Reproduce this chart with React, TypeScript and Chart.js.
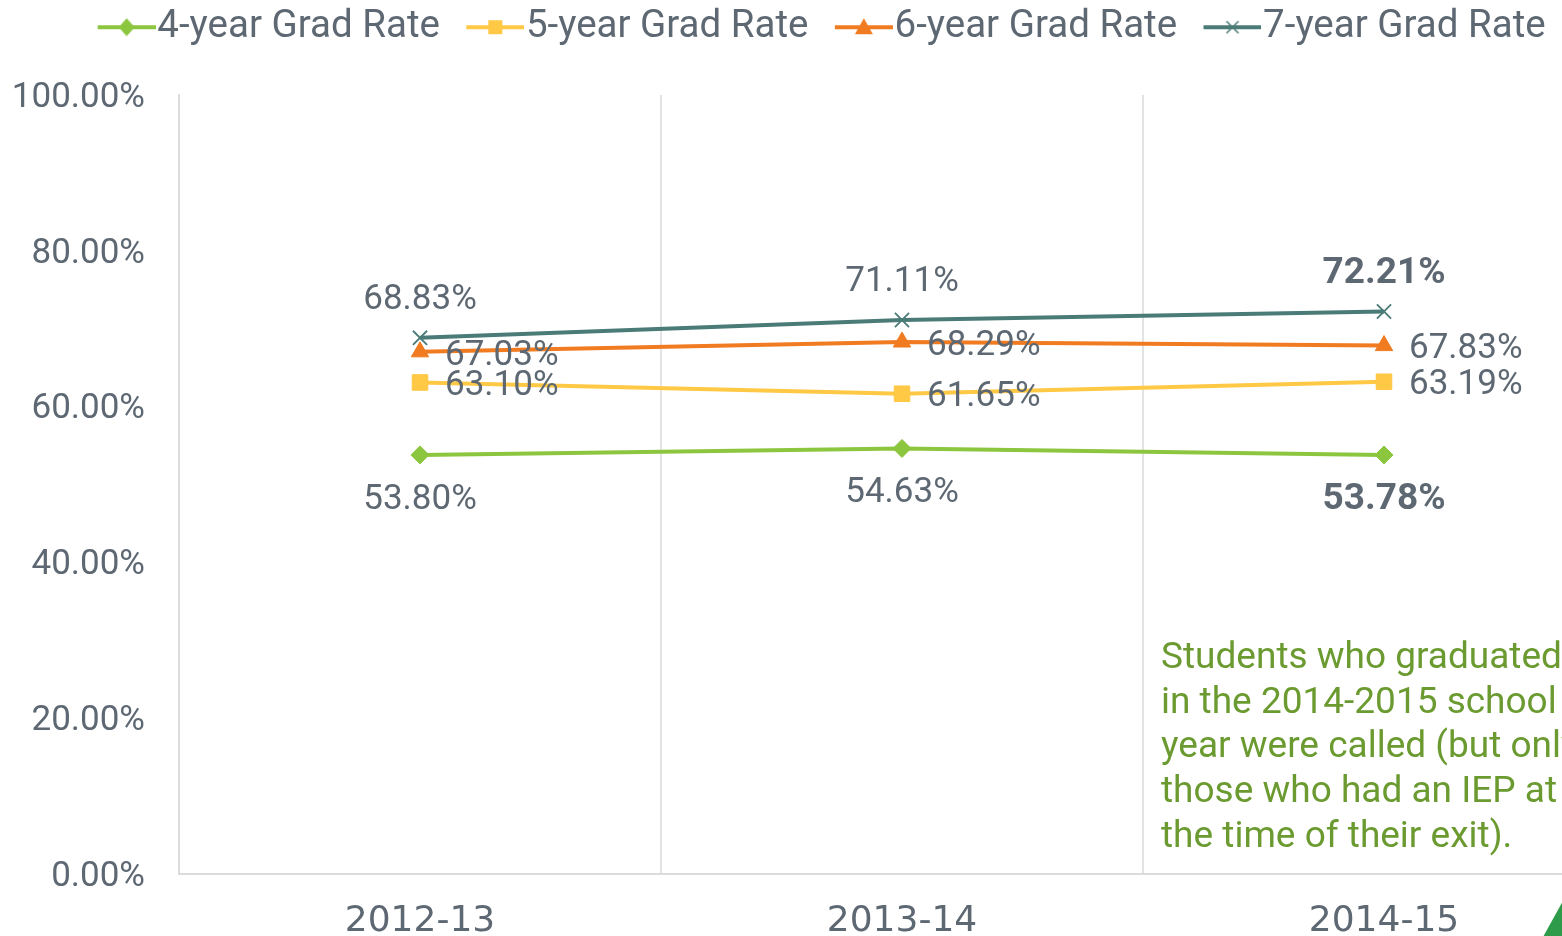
import React, { useEffect, useRef } from "react";
import { Chart, registerables } from "chart.js";

Chart.register(...registerables);

const categories = ["2012-13", "2013-14", "2014-15"];
const seriesNames = ["4-year Grad Rate", "5-year Grad Rate", "6-year Grad Rate", "7-year Grad Rate"];
const rate4 = [53.8, 54.63, 53.78];
const rate5 = [63.1, 61.65, 63.19];
const rate6 = [67.03, 68.29, 67.83];
const rate7 = [68.83, 71.11, 72.21];
const yTicks = [0, 20, 40, 60, 80, 100];
const noteLines = [
  "Students who graduated",
  "in the 2014-2015 school",
  "year were called (but only",
  "those who had an IEP at",
  "the time of their exit).",
];

const colors = ["#8cc63f", "#ffc845", "#f07b21", "#4a7b77"];
const pointStyles = ["rectRot", "rect", "triangle", "crossRot"];
const pointRadii = [9, 11, 10, 10];
const labelPos = ["below", "right", "right", "above"];
const boldLabels = [
  [false, false, true],
  [false, false, false],
  [false, false, false],
  [false, false, true],
];
const TEXT = "#5d6873";
const LEGEND_FS = 38.5;
const LEGEND_PAD = 8;
const LEGEND_BOX = 86 - LEGEND_FS / 2 - LEGEND_PAD;

function legendIcon(color: string, style: string): HTMLCanvasElement {
  const lineEnd = LEGEND_BOX + LEGEND_FS / 2 - 2;
  const center = LEGEND_BOX / 2;
  const half = lineEnd - center;
  const w = Math.ceil(half * 2);
  const c = document.createElement("canvas");
  c.width = w;
  c.height = 24;
  const g = c.getContext("2d")!;
  const x1 = w - 58;
  const x2 = w;
  g.strokeStyle = color;
  g.fillStyle = color;
  g.lineWidth = 4;
  g.beginPath();
  g.moveTo(x1, 12);
  g.lineTo(x2, 12);
  g.stroke();
  const cx = (x1 + x2) / 2, cy = 12;
  g.beginPath();
  if (style === "rectRot") {
    g.moveTo(cx, cy - 9); g.lineTo(cx + 8, cy); g.lineTo(cx, cy + 9); g.lineTo(cx - 8, cy); g.closePath(); g.fill();
  } else if (style === "rect") {
    g.fillRect(cx - 7, cy - 7, 14, 14);
  } else if (style === "triangle") {
    g.moveTo(cx, cy - 9); g.lineTo(cx + 9, cy + 7); g.lineTo(cx - 9, cy + 7); g.closePath(); g.fill();
  } else {
    g.lineWidth = 1.5;
    g.moveTo(cx - 6, cy - 6); g.lineTo(cx + 6, cy + 6);
    g.moveTo(cx + 6, cy - 6); g.lineTo(cx - 6, cy + 6); g.stroke();
  }
  return c;
}

const legendHeightPlugin = {
  id: "legendHeight",
  beforeLayout(chart: any) {
    const lg = chart.legend;
    if (lg && !lg.__patched) {
      const orig = lg.fit;
      lg.fit = function () {
        orig.call(this);
        this.height = 95;
      };
      lg.__patched = true;
    }
  },
};

const valueLabels = {
  id: "valueLabels",
  afterDatasetsDraw(chart: any) {
    const ctx = chart.ctx;
    ctx.save();
    chart.data.datasets.forEach((ds: any, di: number) => {
      const meta = chart.getDatasetMeta(di);
      meta.data.forEach((pt: any, i: number) => {
        const v = ds.data[i] as number;
        const bold = boldLabels[di][i];
        ctx.font = bold ? "bold 37px Roboto" : "35px Roboto";
        ctx.fillStyle = TEXT;
        ctx.textBaseline = "middle";
        const txt = v.toFixed(2) + "%";
        const pos = labelPos[di];
        if (pos === "above") {
          ctx.textAlign = "center";
          ctx.fillText(txt, pt.x, pt.y - 38);
        } else if (pos === "below") {
          ctx.textAlign = "center";
          ctx.fillText(txt, pt.x, pt.y + 45);
        } else {
          ctx.textAlign = "left";
          ctx.fillText(txt, pt.x + 25, pt.y + 4);
        }
      });
    });
    ctx.restore();
  },
};

const notePlugin = {
  id: "note",
  afterDraw(chart: any) {
    const ctx = chart.ctx;
    ctx.save();
    ctx.font = "37px Roboto";
    ctx.fillStyle = "#6b9b30";
    ctx.textAlign = "left";
    ctx.textBaseline = "middle";
    noteLines.forEach((l, i) => ctx.fillText(l, 1161, 659 + i * 44.6));
    ctx.fillStyle = "#2e9b4a";
    ctx.beginPath();
    ctx.moveTo(1543, 937);
    ctx.lineTo(1564, 899);
    ctx.lineTo(1590, 937);
    ctx.closePath();
    ctx.fill();
    ctx.restore();
  },
};

export default function App() {
  const ref = useRef<HTMLCanvasElement>(null);
  useEffect(() => {
    const series = [rate4, rate5, rate6, rate7];
    const chart = new Chart(ref.current!, {
      type: "line",
      data: {
        labels: categories,
        datasets: series.map((d, i) => ({
          label: seriesNames[i],
          data: d,
          borderColor: colors[i],
          backgroundColor: colors[i],
          borderWidth: 4,
          pointStyle: pointStyles[i] as any,
          pointRadius: pointRadii[i],
          pointBorderWidth: i === 3 ? 1.8 : 1,
          pointBorderColor: colors[i],
          pointBackgroundColor: colors[i],
          tension: 0,
        })),
      },
      options: {
        animation: false,
        responsive: true,
        maintainAspectRatio: false,
        layout: { padding: { right: 31, top: 0, left: 0, bottom: 0 } },
        plugins: {
          tooltip: { enabled: false },
          legend: {
            position: "top",
            labels: {
              usePointStyle: true,
              pointStyleWidth: LEGEND_BOX,
              padding: LEGEND_PAD,
              color: TEXT,
              font: { family: "Roboto", size: LEGEND_FS },
              generateLabels: () =>
                seriesNames.map((n, i) => ({
                  text: n,
                  pointStyle: legendIcon(colors[i], pointStyles[i]) as any,
                  fillStyle: colors[i],
                  strokeStyle: colors[i],
                  lineWidth: 0,
                  hidden: false,
                  datasetIndex: i,
                  fontColor: TEXT,
                })),
            },
          },
        },
        scales: {
          x: {
            type: "category",
            offset: true,
            grid: { display: true, offset: true, color: "#e3e3e3", lineWidth: 2, drawTicks: false },
            border: { display: true, color: "#dcdcdc", width: 2 },
            ticks: { color: TEXT, font: { family: "DejaVu Sans", size: 36 }, padding: 26 },
            afterFit: (s: any) => { s.height = 62; },
          },
          y: {
            min: 0,
            max: 100,
            afterBuildTicks: (s: any) => { s.ticks = yTicks.map((v) => ({ value: v })); },
            grid: { display: false, drawTicks: false },
            border: { display: true, color: "#dcdcdc", width: 2 },
            ticks: {
              color: TEXT,
              font: { family: "Roboto", size: 35 },
              padding: 34,
              labelOffset: 3,
              callback: (v: any) => Number(v).toFixed(2) + "%",
            },
            afterFit: (s: any) => { s.width = 179; },
          },
        },
      },
      plugins: [legendHeightPlugin, valueLabels, notePlugin],
    });
    return () => chart.destroy();
  }, []);
  return (
    <div style={{ position: "fixed", left: 0, top: 0, width: 1562, height: 936, overflow: "hidden", background: "#fff" }}>
      <div style={{ position: "relative", width: 1656, height: 936 }}>
        <canvas ref={ref} />
      </div>
    </div>
  );
}
